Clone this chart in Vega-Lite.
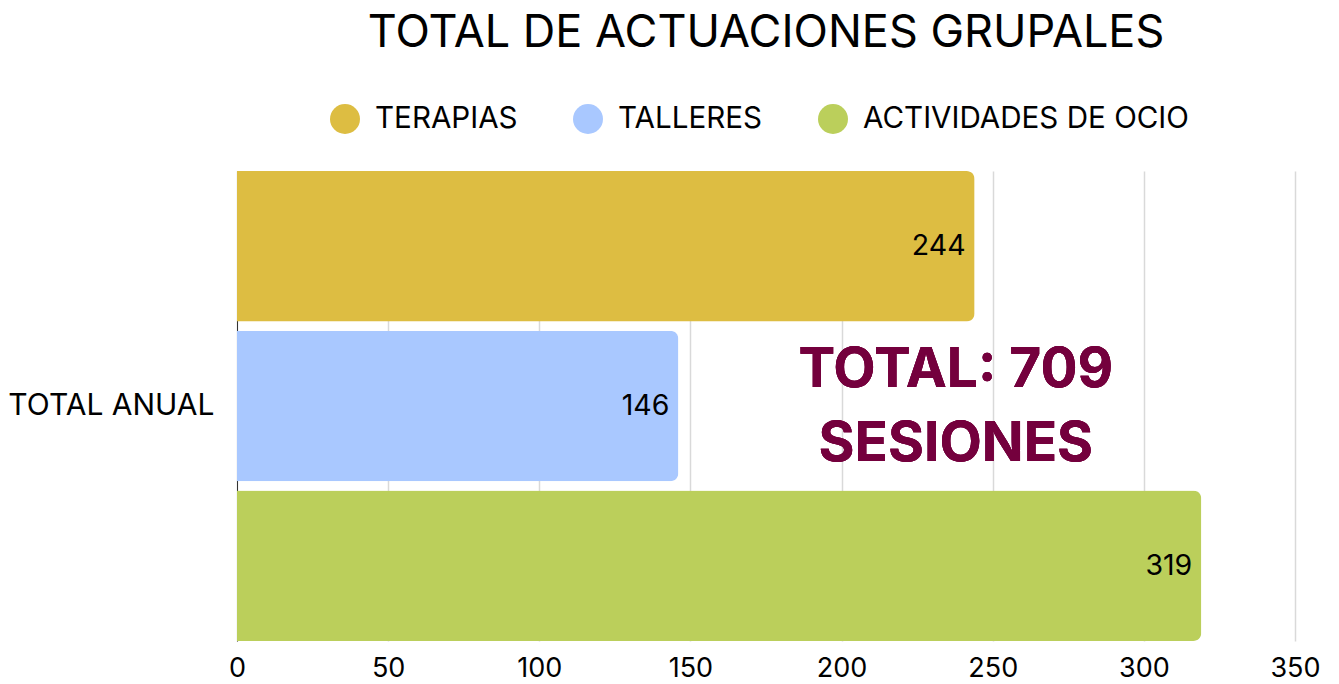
{
  "$schema": "https://vega.github.io/schema/vega-lite/v6.json",
  "width": 1058,
  "height": 470,
  "autosize": {"type": "none"},
  "padding": {"left": 237, "top": 171, "right": 44, "bottom": 43},
  "background": "white",
  "config": {
    "font": "Inter",
    "view": {"stroke": null},
    "title": {"font": "Inter", "fontSize": 45, "fontWeight": "normal", "color": "#000000"}
  },
  "title": {"text": "TOTAL DE ACTUACIONES GRUPALES", "anchor": "middle", "offset": 48},
  "data": {
    "values": [
      {"grupo": "TOTAL ANUAL", "serie": "TERAPIAS", "valor": 244},
      {"grupo": "TOTAL ANUAL", "serie": "TALLERES", "valor": 146},
      {"grupo": "TOTAL ANUAL", "serie": "ACTIVIDADES DE OCIO", "valor": 319}
    ]
  },
  "encoding": {
    "y": {
      "field": "grupo",
      "type": "nominal",
      "title": null,
      "scale": {"paddingInner": 0, "paddingOuter": 0},
      "axis": {"ticks": false, "domain": true, "domainColor": "#333333", "labelFontSize": 30, "labelColor": "#000000", "labelPadding": 23, "labelFont": "Inter", "labelLimit": 300}
    },
    "yOffset": {
      "field": "serie",
      "type": "nominal",
      "sort": ["TERAPIAS", "TALLERES", "ACTIVIDADES DE OCIO"],
      "scale": {"paddingInner": 0.057, "paddingOuter": 0}
    }
  },
  "layer": [
    {
      "mark": {"type": "bar", "cornerRadiusEnd": 8},
      "encoding": {
        "x": {
          "field": "valor",
          "type": "quantitative",
          "title": null,
          "scale": {"domain": [0, 350], "nice": false},
          "axis": {"values": [0, 50, 100, 150, 200, 250, 300, 350], "ticks": false, "domain": false, "grid": true, "gridColor": "#d9d9d9", "gridWidth": 1.5, "labelFontSize": 27, "labelColor": "#000000", "labelPadding": 14, "labelFont": "Inter", "labelFlush": false, "labelOverlap": false, "labelBound": false}
        },
        "color": {
          "field": "serie",
          "type": "nominal",
          "sort": ["TERAPIAS", "TALLERES", "ACTIVIDADES DE OCIO"],
          "scale": {"domain": ["TERAPIAS", "TALLERES", "ACTIVIDADES DE OCIO"], "range": ["#DDBD42", "#A9C8FF", "#BBCF5B"]},
          "legend": {
            "title": null,
            "orient": "none",
            "direction": "horizontal",
            "legendX": 93,
            "legendY": -67,
            "symbolType": "circle",
            "symbolSize": 900,
            "symbolStrokeWidth": 0,
            "labelFontSize": 29.6,
            "labelFont": "Inter",
            "labelColor": "#000000",
            "labelOffset": 15,
            "columnPadding": 55,
            "labelLimit": 400
          }
        }
      }
    },
    {
      "mark": {"type": "text", "align": "right", "baseline": "middle", "dx": -9, "fontSize": 28.5, "font": "Inter", "color": "#000000"},
      "encoding": {
        "x": {"field": "valor", "type": "quantitative"},
        "text": {"field": "valor", "type": "quantitative"}
      }
    },
    {
      "mark": {"type": "text", "text": ["TOTAL: 709", "SESIONES"], "align": "center", "baseline": "middle", "dy": -36, "fontSize": 55, "fontWeight": "bold", "font": "Inter", "color": "#74003D", "lineHeight": 74},
      "encoding": {
        "x": {"datum": 237.8, "type": "quantitative"},
        "y": {"datum": "TOTAL ANUAL", "type": "nominal"},
        "yOffset": null
      }
    }
  ]
}
